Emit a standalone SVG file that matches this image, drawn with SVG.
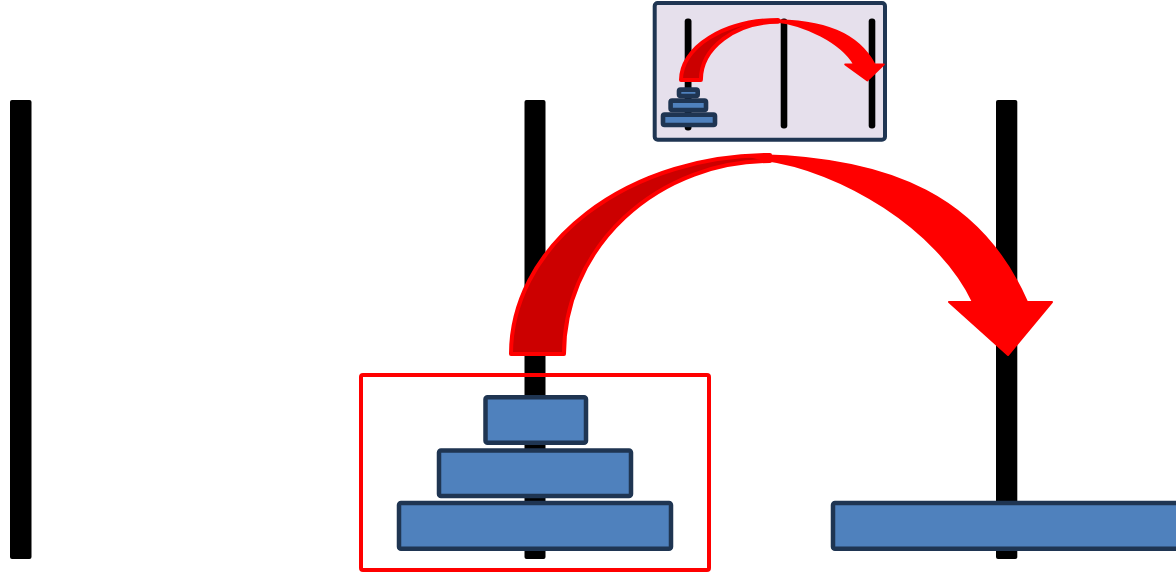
<svg xmlns="http://www.w3.org/2000/svg" xmlns:xlink="http://www.w3.org/1999/xlink" width="1176" height="574" viewBox="0 0 1176 574">
  <style>
    .peg { fill: #000000; }
    .disk { fill: #4f81bd; stroke: #1f3552; stroke-width: 4.5; stroke-linejoin: round; }
    .sdisk { fill: #4f81bd; stroke: #1f3552; stroke-width: 4.6; stroke-linejoin: round; }
    .arrow-dark { fill: #cc0000; stroke: #ff0000; stroke-width: 4; stroke-linejoin: round; }
    .arrow-bright { fill: #ff0000; stroke: #ff0000; stroke-width: 2; stroke-linejoin: round; }
  </style>
  <defs>
    <g id="curved-arrow">
      <path class="arrow-dark" vector-effect="non-scaling-stroke" d="M 511,354 A 259 199 0 0 1 770,155 L 770,161 A 206 193 0 0 0 564,354 Z"/>
      <path class="arrow-bright" vector-effect="non-scaling-stroke" d="M 745,155 C 895,155 983,201 1027,302 L 1052,302 L 1008,355 L 949,302 L 973,302 C 938,228 840,170 765,160 Z"/>
    </g>
  </defs>
  <rect width="1176" height="574" fill="#ffffff"/>

  <g id="peg-left"><rect class="peg" x="10" y="100" width="21.5" height="459" rx="2"/></g>
  <g id="peg-middle"><rect class="peg" x="524.5" y="100" width="21" height="459" rx="2"/></g>
  <g id="peg-right"><rect class="peg" x="996" y="100" width="21.3" height="459" rx="2"/></g>

  <g id="disk-small"><rect class="disk" x="485.5" y="397.3" width="100.5" height="45.5" rx="2"/></g>
  <g id="disk-medium"><rect class="disk" x="439" y="450.5" width="192" height="45.5" rx="2"/></g>
  <g id="disk-large"><rect class="disk" x="399" y="503" width="272" height="45.8" rx="2"/></g>
  <g id="disk-right"><rect class="disk" x="833" y="503" width="400" height="45.8" rx="2"/></g>

  <g id="selection-box"><rect x="361" y="375" width="348" height="195" fill="none" stroke="#ff0000" stroke-width="4" rx="2"/></g>

  <g id="inset">
    <rect x="654.7" y="3" width="230.3" height="136.7" rx="3" fill="#e6e0ec" stroke="#1f3552" stroke-width="4"/>
    <rect class="peg" x="684.7" y="18.5" width="6.8" height="112" rx="3"/>
    <rect class="peg" x="780.7" y="18.5" width="6.6" height="110" rx="3"/>
    <rect class="peg" x="868.7" y="18.5" width="6.6" height="110" rx="3"/>
    <rect class="sdisk" x="679" y="89.6" width="18.7" height="6.4" rx="1.5"/>
    <rect class="sdisk" x="670.6" y="100.6" width="35.4" height="9.4" rx="1.5"/>
    <rect class="sdisk" x="663" y="114.6" width="52" height="10.4" rx="1.5"/>
  </g>

  <g id="connectors">
    <use xlink:href="#curved-arrow" href="#curved-arrow"/>
    <use xlink:href="#curved-arrow" href="#curved-arrow" transform="translate(681,20) scale(0.375,0.302) translate(-511,-155)"/>
  </g>
</svg>
